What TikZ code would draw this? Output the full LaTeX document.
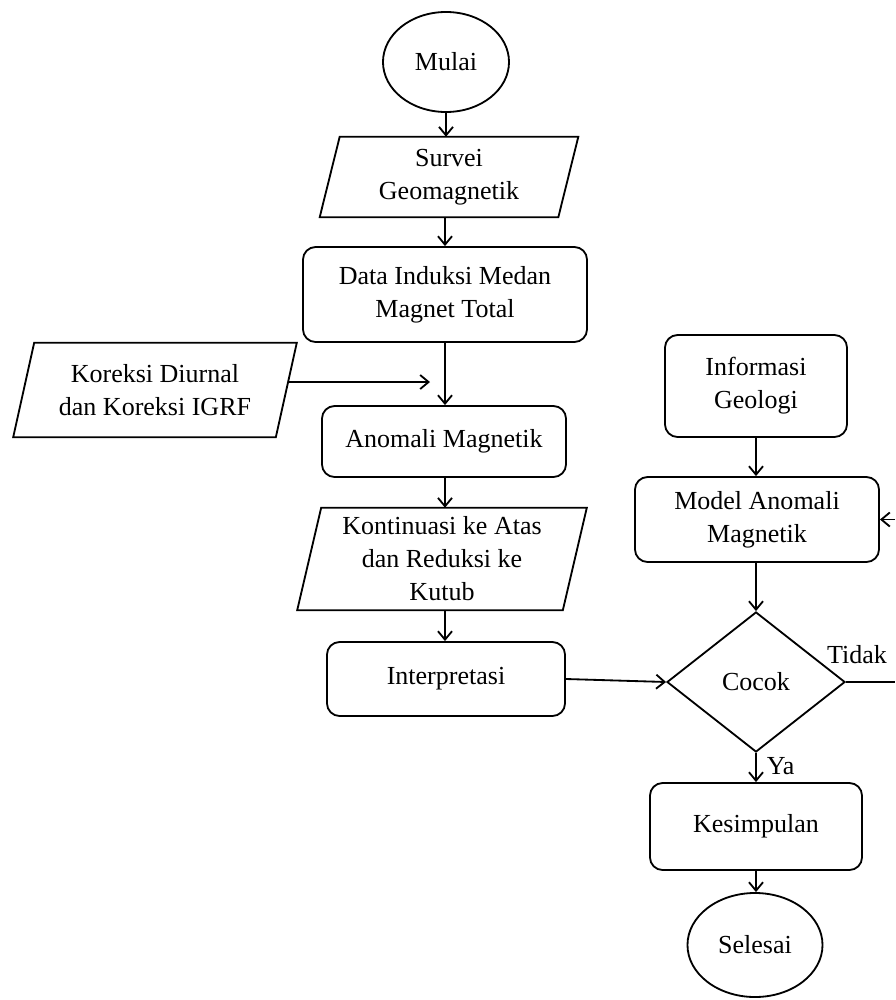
\documentclass[tikz,border=0pt]{standalone}
\usepackage{fontspec}
\setmainfont{Liberation Serif}
\usetikzlibrary{shapes.geometric,arrows.meta,calc}
\newcommand\drawpara[2]{\draw[line width=1.3pt,line join=miter] ($(#1.north west)+(#2,0)$) -- ($(#1.north east)+(#2,0)$) -- ($(#1.south east)-(#2,0)$) -- ($(#1.south west)-(#2,0)$) -- cycle;}
\begin{document}
\begin{tikzpicture}[x=0.025cm,y=-0.025cm,
  every node/.style={font=\fontsize{18.5}{23.5}\selectfont, align=center, inner sep=0pt},
  arr/.style={line width=1.3pt,-{Straight Barb[length=6pt,width=10pt]}},
  plain/.style={line width=1.3pt},
  rbox/.style={draw,line width=1.3pt,rounded corners=9pt,rectangle},
  oval/.style={draw,line width=1.3pt,ellipse},
  pbox/.style={rectangle},
  dec/.style={draw,line width=1.3pt,diamond}
]
\path[fill=white,use as bounding box] (0,0) rectangle (895,1000);

% left column
\node[oval,minimum width=3.15cm,minimum height=2.5cm] (mulai) at (446,62) {Mulai};
\node[pbox,minimum width=5.95cm,minimum height=2cm] (survei) at (449,177) {Survei\\Geomagnetik};
\drawpara{survei}{10}
\node[rbox,minimum width=7.1cm,minimum height=2.375cm] (data) at (445,294.5) {Data Induksi Medan\\Magnet Total};
\node[pbox,minimum width=6.55cm,minimum height=2.35cm] (koreksi) at (155,390) {Koreksi Diurnal\\dan Koreksi IGRF};
\drawpara{koreksi}{10.5}
\node[rbox,minimum width=6.1cm,minimum height=1.775cm] (anomali) at (444,441.5) {Anomali Magnetik};
\node[pbox,minimum width=6.625cm,minimum height=2.55cm] (kontinuasi) at (442,559) {Kontinuasi ke Atas\\dan Reduksi ke\\Kutub};
\drawpara{kontinuasi}{12}
\node[rbox,minimum width=5.95cm,minimum height=1.85cm] (interp) at (446,679) {Interpretasi};

% right column
\node[rbox,minimum width=4.55cm,minimum height=2.55cm] (info) at (756,386) {Informasi\\Geologi};
\node[rbox,minimum width=6.1cm,minimum height=2.125cm] (model) at (757,519.5) {Model Anomali\\Magnetik};
\node[dec,minimum width=4.45cm,minimum height=3.5cm] (cocok) at (756,682) {Cocok};
\node[rbox,minimum width=5.3cm,minimum height=2.175cm] (kesimpulan) at (756,826.5) {Kesimpulan};
\node[oval,minimum width=3.375cm,minimum height=2.6cm] (selesai) at (755,945) {Selesai};

\coordinate (koreksiEnd) at (430,382);
\coordinate (tidakEnd) at (895,682);
\coordinate (backIn) at (895,519.5);

% connectors
\draw[arr] (mulai.south) -- (mulai.south |- survei.north);
\draw[arr] (survei.south -| 445,0) -- (data.north);
\draw[arr] (data.south) -- (data.south |- anomali.north);
\draw[arr] ($(koreksi.east)+(2,-8)$) -- (koreksiEnd);
\draw[arr] (anomali.south -| data.south) -- (data.south |- kontinuasi.north);
\draw[arr] (kontinuasi.south -| data.south) -- (data.south |- interp.north);
\draw[arr] (interp.east) -- (cocok.west);
\draw[arr] (info.south) -- (info.south |- model.north);
\draw[arr] (model.south -| cocok.north) -- (cocok.north);
\draw[arr] (cocok.south) -- node[right=7pt,pos=0.45] (ya) {Ya} (kesimpulan.north);
\draw[arr] (kesimpulan.south) -- (kesimpulan.south |- selesai.north);
\draw[plain] (cocok.east) -- (tidakEnd);
\node (tidak) at (857,655) {Tidak};
\draw[arr] (backIn) -- (model.east);
\end{tikzpicture}
\end{document}
